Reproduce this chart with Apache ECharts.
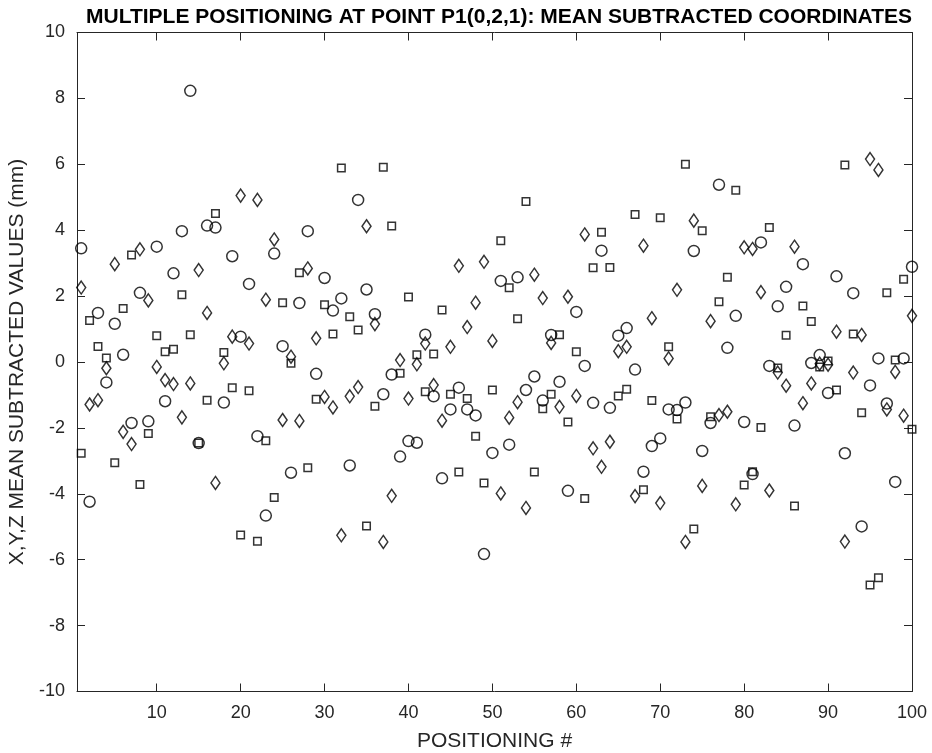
<!DOCTYPE html>
<html>
<head>
<meta charset="utf-8">
<script src="https://cdn.jsdelivr.net/npm/echarts@6/dist/echarts.min.js"></script>
<style>
  html, body { margin: 0; padding: 0; background: #fff; }
  #chart { width: 932px; height: 753px; }
</style>
</head>
<body>
<div id="chart"></div>
<script>
// positioning numbers 1..100
var positions = [];
for (var i = 1; i <= 100; i++) positions.push(i);

// circles
var circleVals = [
  3.45, -4.24, 1.49, -0.62, 1.16, 0.22, -1.85, 2.10, -1.80, 3.50,
  -1.19, 2.69, 3.97, 8.23, -2.46, 4.14, 4.08, -1.23, 3.21, 0.77,
  2.37, -2.25, -4.66, 3.29, 0.48, -3.36, 1.79, 3.97, -0.36, 2.55,
  1.56, 1.93, -3.14, 4.92, 2.20, 1.45, -0.98, -0.38, -2.87, -2.40,
  -2.45, 0.83, -1.04, -3.53, -1.44, -0.78, -1.44, -1.62, -5.83, -2.76,
  2.46, -2.51, 2.57, -0.85, -0.44, -1.17, 0.82, -0.60, -3.91, 1.52,
  -0.12, -1.24, 3.38, -1.39, 0.80, 1.03, -0.23, -3.33, -2.55, -2.32,
  -1.44, -1.46, -1.23, 3.37, -2.70, -1.85, 5.38, 0.43, 1.40, -1.82,
  -3.40, 3.63, -0.12, 1.69, 2.28, -1.93, 2.97, -0.03, 0.21, -0.94,
  2.60, -2.77, 2.09, -4.99, -0.71, 0.11, -1.26, -3.64, 0.11, 2.89
];
// squares
var squareVals = [
  -2.77, 1.26, 0.47, 0.12, -3.06, 1.62, 3.25, -3.72, -2.17, 0.80,
  0.31, 0.39, 2.04, 0.83, -2.46, -1.16, 4.51, 0.29, -0.78, -5.25,
  -0.87, -5.44, -2.39, -4.11, 1.80, -0.04, 2.71, -3.21, -1.13, 1.74,
  0.85, 5.89, 1.37, 0.97, -4.98, -1.34, 5.91, 4.13, -0.34, 1.97,
  0.22, -0.90, 0.24, 1.58, -0.98, -3.34, -1.11, -2.25, -3.67, -0.85,
  3.68, 2.25, 1.31, 4.87, -3.34, -1.42, -0.98, 0.83, -1.82, 0.31,
  -4.14, 2.86, 3.94, 2.87, -1.03, -0.83, 4.48, -3.88, -1.17, 4.38,
  0.46, -1.73, 6.00, -5.07, 3.98, -1.66, 1.83, 2.57, 5.21, -3.73,
  -3.33, -1.99, 4.08, -0.18, 0.81, -4.37, 1.70, 1.23, -0.15, 0.03,
  -0.85, 5.98, 0.85, -1.54, -6.77, -6.55, 2.10, 0.06, 2.51, -2.04
];
// diamonds
var diamondVals = [
  2.26, -1.29, -1.16, -0.19, 2.97, -2.12, -2.49, 3.42, 1.87, -0.15,
  -0.55, -0.67, -1.68, -0.65, 2.79, 1.49, -3.67, -0.04, 0.77, 5.05,
  0.56, 4.92, 1.89, 3.72, -1.76, 0.16, -1.79, 2.84, 0.72, -1.06,
  -1.38, -5.26, -1.04, -0.76, 4.12, 1.15, -5.46, -4.06, 0.06, -1.11,
  -0.07, 0.56, -0.70, -1.78, 0.46, 2.92, 1.06, 1.80, 3.04, 0.64,
  -3.99, -1.69, -1.22, -4.43, 2.65, 1.94, 0.58, -1.36, 1.98, -1.03,
  3.87, -2.62, -3.18, -2.42, 0.33, 0.46, -4.07, 3.53, 1.33, -4.28,
  0.11, 2.19, -5.46, 4.29, -3.76, 1.24, -1.61, -1.51, -4.32, 3.48,
  3.43, 2.12, -3.90, -0.32, -0.72, 3.50, -1.25, -0.65, -0.05, -0.08,
  0.92, -5.45, -0.32, 0.82, 6.16, 5.83, -1.44, -0.30, -1.63, 1.40
];

var xTicks = [10, 20, 30, 40, 50, 60, 70, 80, 90, 100];

function pairs(vals) {
  var out = [];
  for (var i = 0; i < vals.length; i++) out.push([positions[i], vals[i]]);
  return out;
}

var fontName = 'Liberation Sans, Arial, Helvetica, sans-serif';
var ink = '#262626';

var chart = echarts.init(document.getElementById('chart'), null, { renderer: 'canvas' });

var markStyle = {
  color: 'rgba(0,0,0,0)',
  borderColor: '#000',
  borderWidth: 1.5
};

var option = {
  animation: false,
  backgroundColor: '#fff',
  title: {
    text: 'MULTIPLE POSITIONING AT POINT P1(0,2,1): MEAN SUBTRACTED COORDINATES',
    left: 494,
    top: 2,
    textAlign: 'center',
    textStyle: {
      fontFamily: fontName,
      fontWeight: 'bold',
      fontSize: 21,
      color: '#000'
    }
  },
  grid: {
    left: 77,
    right: 20,
    top: 32.5,
    bottom: 61.5,
    outerBoundsMode: 'none'
  },
  xAxis: [
    {
      type: 'value',
      min: 0.5,
      max: 100,
      name: 'POSITIONING #',
      nameLocation: 'middle',
      nameGap: 39,
      nameTextStyle: { fontFamily: fontName, fontSize: 21, color: ink },
      axisLine: { onZero: false, lineStyle: { color: ink, width: 1 } },
      axisTick: { inside: true, length: 8, customValues: xTicks, lineStyle: { color: ink } },
      axisLabel: { customValues: xTicks, margin: 13, fontFamily: fontName, fontSize: 18, color: ink },
      splitLine: { show: false }
    },
    {
      type: 'value',
      position: 'top',
      min: 0.5,
      max: 100,
      axisLine: { onZero: false, lineStyle: { color: ink, width: 1 } },
      axisTick: { inside: true, length: 8, customValues: xTicks, lineStyle: { color: ink } },
      axisLabel: { show: false },
      splitLine: { show: false }
    }
  ],
  yAxis: [
    {
      type: 'value',
      min: -10,
      max: 10,
      interval: 2,
      name: 'X,Y,Z MEAN SUBTRACTED VALUES (mm)',
      nameLocation: 'middle',
      nameGap: 48,
      nameTextStyle: { fontFamily: fontName, fontSize: 21, color: ink },
      axisLine: { onZero: false, lineStyle: { color: ink, width: 1 } },
      axisTick: { inside: true, length: 8, lineStyle: { color: ink } },
      axisLabel: { margin: 12, fontFamily: fontName, fontSize: 18, color: ink },
      splitLine: { show: false }
    },
    {
      type: 'value',
      position: 'right',
      min: -10,
      max: 10,
      interval: 2,
      axisLine: { onZero: false, lineStyle: { color: ink, width: 1 } },
      axisTick: { inside: true, length: 8, lineStyle: { color: ink } },
      axisLabel: { show: false },
      splitLine: { show: false }
    }
  ],
  series: [
    {
      name: 'circles',
      type: 'scatter',
      xAxisIndex: 0,
      yAxisIndex: 0,
      symbol: 'circle',
      symbolSize: 11,
      itemStyle: markStyle,
      data: pairs(circleVals)
    },
    {
      name: 'squares',
      type: 'scatter',
      xAxisIndex: 0,
      yAxisIndex: 0,
      symbol: 'rect',
      symbolSize: 7.5,
      itemStyle: markStyle,
      data: pairs(squareVals)
    },
    {
      name: 'diamonds',
      type: 'scatter',
      xAxisIndex: 0,
      yAxisIndex: 0,
      symbol: 'diamond',
      symbolSize: [9, 13],
      itemStyle: markStyle,
      data: pairs(diamondVals)
    }
  ]
};

chart.setOption(option);
</script>
</body>
</html>
